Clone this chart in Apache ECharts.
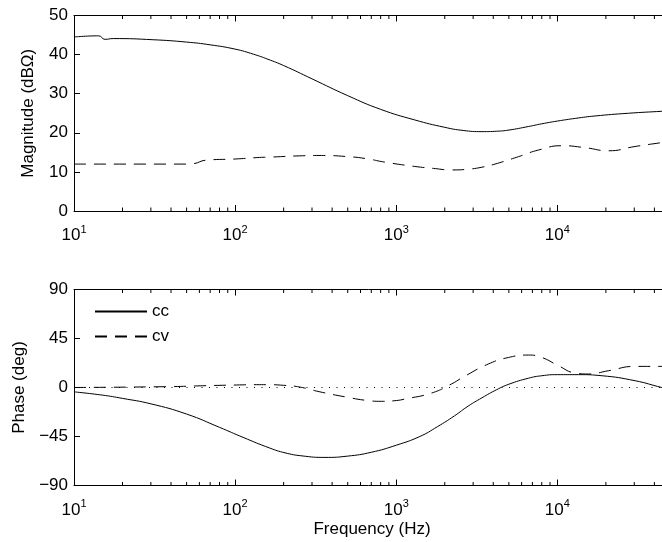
<!DOCTYPE html>
<html>
<head>
<meta charset="utf-8">
<script src="https://cdn.jsdelivr.net/npm/echarts@6/dist/echarts.min.js"></script>
<style>html,body{margin:0;padding:0;background:#fff}#c{width:662px;height:542px}</style>
</head>
<body>
<div id="c"></div>
<script>
// ---- data ----
const freqMagCC = [10, 14.2, 15.6, 17.5, 31, 50, 70, 100, 130, 160, 200, 300, 500, 800, 1300, 2000, 2600, 3400, 4200, 5000, 6600, 8000, 10000, 13000, 17100, 27600, 44500, 50000];
const magCC     = [44.5, 44.8, 43.9, 44.1, 43.8, 43.2, 42.5, 41.4, 40.1, 38.8, 37.2, 33.8, 29.5, 26.0, 23.3, 21.4, 20.6, 20.3, 20.4, 20.7, 21.6, 22.3, 23.0, 23.7, 24.3, 25.0, 25.5, 25.6];
const freqMagCV = [10, 50, 55, 66, 100, 142, 168, 250, 344, 503, 650, 849, 1300, 1700, 2200, 2810, 3400, 4100, 5740, 7640, 10650, 14860, 20760, 30360, 44500, 50000];
const magCV     = [12.0, 12.0, 12.1, 13.0, 13.3, 13.7, 13.8, 14.1, 14.2, 13.9, 13.4, 12.5, 11.4, 10.9, 10.5, 10.7, 11.2, 12.0, 13.9, 15.6, 16.7, 16.2, 15.4, 16.5, 17.5, 17.8];
const freqPhCC  = [10, 15, 20, 30, 50, 80, 112, 164, 204, 260, 361, 500, 700, 1000, 1400, 1800, 2300, 2800, 3400, 4200, 5000, 6600, 8000, 10000, 13500, 18900, 30400, 44500, 50000];
const phaseCC   = [-4, -7, -10, -15, -24.4, -36.6, -45.8, -55.6, -60, -62.8, -64.2, -63, -59.5, -53, -45, -36, -26, -17, -9.5, -2, 3, 8.5, 10.8, 11.8, 11.8, 10.8, 6.2, 0, -1.5];
const freqPhCV  = [10, 39, 63, 102, 136, 157, 200, 250, 336, 503, 650, 811, 1000, 1131, 1656, 2200, 2600, 3730, 4980, 6620, 8000, 10150, 12880, 15600, 20760, 30360, 44500, 50000];
const phaseCV   = [0, 0.8, 1.6, 2.3, 2.6, 2.6, 2.0, 0.5, -4, -9.1, -11.8, -12.7, -12, -10.6, -5.1, 3.2, 9.5, 21.6, 27.6, 29.8, 27.6, 20.0, 13.3, 12.4, 15.4, 19.4, 19.4, 19.4];
const zeroFreq  = [10, 50000];
const zeroVal   = [0, 0];
const minorTicks = [20,30,40,50,60,70,80,90,200,300,400,500,600,700,800,900,2000,3000,4000,5000,6000,7000,8000,9000,20000,30000,40000];
const xMin = 10, xMax = 50000;
const magMin = 0, magMax = 50, magStep = 10;
const phMin = -90, phMax = 90, phStep = 45;
const seriesNames = ['cc', 'cv'];
const xName = 'Frequency (Hz)';
const magName = 'Magnitude (dBΩ)';
const phName = 'Phase (deg)';

const zip = (a, b) => a.map((v, i) => [v, b[i]]);
const FONT = 'Liberation Sans, Arial, Helvetica, sans-serif';
const FS = 17;

function xLabel(v) {
  const l = Math.log10(v);
  const e = Math.round(l);
  if (Math.abs(l - e) > 1e-6) return '';
  return '{b|10}{s|' + e + '}';
}
function yLabel(v) { return v < 0 ? '\u2212' + Math.abs(v) : String(v); }

const richX = {
  b: { fontSize: FS, fontFamily: FONT, color: '#000', lineHeight: FS, padding: [8, 0, 0, 0] },
  s: { fontSize: 11, fontFamily: FONT, color: '#000', lineHeight: 11, verticalAlign: 'top', padding: [1, 0, 0, 0] }
};

function xAxisBottom(gi, name) {
  return {
    type: 'log', logBase: 10, gridIndex: gi, min: xMin, max: xMax, position: 'bottom',
    axisLine: { show: true, onZero: false, lineStyle: { color: '#000', width: 1 } },
    axisTick: { show: true, inside: true, length: 6, lineStyle: { color: '#000' } },
    axisLabel: { formatter: xLabel, rich: richX, margin: 12, color: '#000', hideOverlap: false },
    splitLine: { show: false },
    name: name || '', nameLocation: 'middle', nameGap: 35,
    nameTextStyle: { fontSize: FS, fontFamily: FONT, color: '#000' }
  };
}
function xAxisTop(gi) {
  return {
    type: 'log', logBase: 10, gridIndex: gi, min: xMin, max: xMax, position: 'top',
    axisLine: { show: true, onZero: false, lineStyle: { color: '#000', width: 1 } },
    axisTick: { show: true, inside: true, length: 6, lineStyle: { color: '#000' } },
    axisLabel: { show: false }, splitLine: { show: false }
  };
}
function yAxis(gi, mn, mx, step, name, gap) {
  return {
    type: 'value', gridIndex: gi, min: mn, max: mx, interval: step,
    axisLine: { show: true, onZero: false, lineStyle: { color: '#000', width: 1 } },
    axisTick: { show: true, inside: true, length: 6, lineStyle: { color: '#000' } },
    axisLabel: { formatter: yLabel, margin: 6, fontSize: FS, fontFamily: FONT, color: '#000' },
    splitLine: { show: false },
    name: name, nameLocation: 'middle', nameGap: gap,
    nameTextStyle: { fontSize: FS, fontFamily: FONT, color: '#000' }
  };
}

function minorSeries(xi, yi) {
  return {
    type: 'custom', xAxisIndex: xi, yAxisIndex: yi, silent: true, clip: false,
    data: minorTicks.map(f => [f]),
    renderItem: function (params, api) {
      const x = api.coord([api.value(0), yi === 0 ? magMin : phMin])[0];
      const cs = params.coordSys;
      const top = cs.y, bot = cs.y + cs.height;
      const st = { stroke: '#000', lineWidth: 1 };
      return { type: 'group', children: [
        { type: 'line', shape: { x1: x, y1: bot, x2: x, y2: bot - 3.5 }, style: st },
        { type: 'line', shape: { x1: x, y1: top, x2: x, y2: top + 3.5 }, style: st }
      ]};
    }
  };
}

const solid = { color: '#000', width: 1, type: 'solid' };
const dashed = { color: '#000', width: 1, type: [12, 8] };
const lineBase = { type: 'line', showSymbol: false, symbol: 'none', smooth: 0.5, itemStyle: { color: '#000' } };

const option = {
  animation: false,
  backgroundColor: '#fff',
  grid: [
    { left: 74, width: 596, top: 15.5, height: 195.5, containLabel: false, outerBoundsMode: 'none' },
    { left: 74, width: 596, top: 289.5, height: 196, containLabel: false, outerBoundsMode: 'none' }
  ],
  xAxis: [xAxisBottom(0), xAxisTop(0), xAxisBottom(1, xName), xAxisTop(1)],
  yAxis: [yAxis(0, magMin, magMax, magStep, magName, 37), yAxis(1, phMin, phMax, phStep, phName, 45)],
  legend: {
    data: seriesNames, orient: 'vertical', left: 94, top: 303, padding: 0,
    itemWidth: 52, itemHeight: 14, itemGap: 8,
    itemStyle: { opacity: 0 },
    textStyle: { fontSize: FS, fontFamily: FONT, color: '#000' },
    backgroundColor: 'transparent', borderWidth: 0, selectedMode: false
  },
  series: [
    Object.assign({}, lineBase, { name: seriesNames[0], xAxisIndex: 0, yAxisIndex: 0, data: zip(freqMagCC, magCC), lineStyle: solid }),
    Object.assign({}, lineBase, { name: seriesNames[1], xAxisIndex: 0, yAxisIndex: 0, data: zip(freqMagCV, magCV), lineStyle: dashed }),
    Object.assign({}, lineBase, { name: 'zero', xAxisIndex: 2, yAxisIndex: 1, data: zip(zeroFreq, zeroVal), smooth: false, lineStyle: { color: '#000', width: 1, type: [1, 6.5] } }),
    Object.assign({}, lineBase, { name: seriesNames[0], xAxisIndex: 2, yAxisIndex: 1, data: zip(freqPhCC, phaseCC), lineStyle: solid }),
    Object.assign({}, lineBase, { name: seriesNames[1], xAxisIndex: 2, yAxisIndex: 1, data: zip(freqPhCV, phaseCV), lineStyle: dashed }),
    minorSeries(0, 0),
    minorSeries(2, 1)
  ]
};
const chart = echarts.init(document.getElementById('c'), null, { renderer: 'canvas' });
chart.setOption(option);
</script>
</body>
</html>
